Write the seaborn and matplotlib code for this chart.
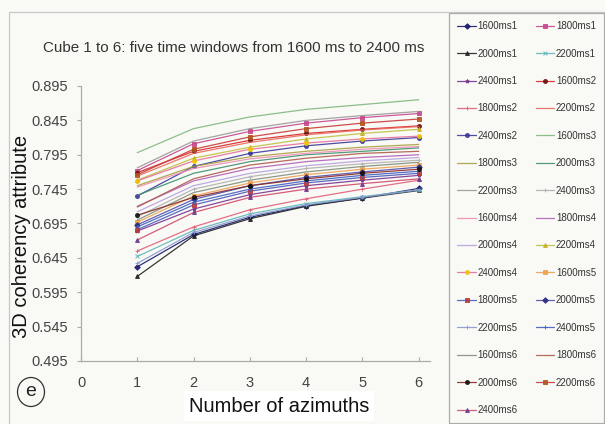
import numpy as np
import pandas as pd
import matplotlib
matplotlib.use("Agg")
import matplotlib.pyplot as plt
from matplotlib.patches import Rectangle, Ellipse
import seaborn as sns

# Number of azimuths used for each coherency cube
azimuths = [1, 2, 3, 4, 5, 6]

# Series names (time window + cube id), in legend order
series_names = [
    "1600ms1", "1800ms1", "2000ms1", "2200ms1", "2400ms1", "1600ms2",
    "1800ms2", "2200ms2", "2400ms2", "1600ms3", "1800ms3", "2000ms3",
    "2200ms3", "2400ms3", "1600ms4", "1800ms4", "2000ms4", "2200ms4",
    "2400ms4", "1600ms5", "1800ms5", "2000ms5", "2200ms5", "2400ms5",
    "1600ms6", "1800ms6", "2000ms6", "2200ms6", "2400ms6",
]

# Mean 3D coherency attribute for each series at 1..6 azimuths
v_1600ms1 = [0.632, 0.679, 0.704, 0.721, 0.732, 0.746]
v_1800ms1 = [0.772, 0.811, 0.829, 0.841, 0.849, 0.855]
v_2000ms1 = [0.618, 0.677, 0.702, 0.720, 0.732, 0.743]
v_2200ms1 = [0.647, 0.685, 0.709, 0.724, 0.734, 0.744]
v_2400ms1 = [0.684, 0.716, 0.737, 0.750, 0.758, 0.765]
v_1600ms2 = [0.769, 0.800, 0.816, 0.826, 0.832, 0.837]
v_1800ms2 = [0.655, 0.690, 0.715, 0.731, 0.745, 0.758]
v_2200ms2 = [0.764, 0.797, 0.813, 0.824, 0.831, 0.836]
v_2400ms2 = [0.735, 0.778, 0.797, 0.808, 0.815, 0.820]
v_1600ms3 = [0.798, 0.833, 0.850, 0.861, 0.868, 0.875]
v_1800ms3 = [0.750, 0.778, 0.792, 0.800, 0.806, 0.810]
v_2000ms3 = [0.736, 0.768, 0.785, 0.795, 0.800, 0.805]
v_2200ms3 = [0.776, 0.815, 0.833, 0.845, 0.852, 0.858]
v_2400ms3 = [0.705, 0.745, 0.763, 0.775, 0.782, 0.787]
v_1600ms4 = [0.748, 0.775, 0.789, 0.797, 0.803, 0.807]
v_1800ms4 = [0.720, 0.757, 0.775, 0.785, 0.791, 0.795]
v_2000ms4 = [0.712, 0.750, 0.768, 0.779, 0.786, 0.791]
v_2200ms4 = [0.758, 0.790, 0.806, 0.818, 0.826, 0.832]
v_2400ms4 = [0.757, 0.786, 0.803, 0.812, 0.818, 0.822]
v_1600ms5 = [0.697, 0.735, 0.754, 0.766, 0.774, 0.780]
v_1800ms5 = [0.686, 0.722, 0.742, 0.754, 0.762, 0.768]
v_2000ms5 = [0.693, 0.730, 0.750, 0.762, 0.770, 0.777]
v_2200ms5 = [0.637, 0.682, 0.706, 0.722, 0.733, 0.744]
v_2400ms5 = [0.690, 0.726, 0.745, 0.757, 0.765, 0.771]
v_1600ms6 = [0.700, 0.740, 0.758, 0.770, 0.778, 0.784]
v_1800ms6 = [0.719, 0.760, 0.780, 0.790, 0.797, 0.800]
v_2000ms6 = [0.707, 0.733, 0.750, 0.760, 0.768, 0.774]
v_2200ms6 = [0.766, 0.803, 0.821, 0.833, 0.841, 0.847]
v_2400ms6 = [0.671, 0.711, 0.733, 0.745, 0.753, 0.760]

values = {
    "1600ms1": v_1600ms1, "1800ms1": v_1800ms1, "2000ms1": v_2000ms1,
    "2200ms1": v_2200ms1, "2400ms1": v_2400ms1, "1600ms2": v_1600ms2,
    "1800ms2": v_1800ms2, "2200ms2": v_2200ms2, "2400ms2": v_2400ms2,
    "1600ms3": v_1600ms3, "1800ms3": v_1800ms3, "2000ms3": v_2000ms3,
    "2200ms3": v_2200ms3, "2400ms3": v_2400ms3, "1600ms4": v_1600ms4,
    "1800ms4": v_1800ms4, "2000ms4": v_2000ms4, "2200ms4": v_2200ms4,
    "2400ms4": v_2400ms4, "1600ms5": v_1600ms5, "1800ms5": v_1800ms5,
    "2000ms5": v_2000ms5, "2200ms5": v_2200ms5, "2400ms5": v_2400ms5,
    "1600ms6": v_1600ms6, "1800ms6": v_1800ms6, "2000ms6": v_2000ms6,
    "2200ms6": v_2200ms6, "2400ms6": v_2400ms6,
}

yticks = [0.495, 0.545, 0.595, 0.645, 0.695, 0.745, 0.795, 0.845, 0.895]
xticks = [0, 1, 2, 3, 4, 5, 6]

colors = {
    "1600ms1": "#1a1a6e", "1800ms1": "#c8478f", "2000ms1": "#222222",
    "2200ms1": "#5fb8b8", "2400ms1": "#7a3590", "1600ms2": "#d62828",
    "1800ms2": "#e0607a", "2200ms2": "#e86a5e", "2400ms2": "#3a3a9a",
    "1600ms3": "#7fb87f", "1800ms3": "#a8a040", "2000ms3": "#3f9070",
    "2200ms3": "#9a9a9a", "2400ms3": "#b0b0b0", "1600ms4": "#f08cb4",
    "1800ms4": "#b35fb8", "2000ms4": "#b8a0e0", "2200ms4": "#c0c040",
    "2400ms4": "#e8709a", "1600ms5": "#f0a050", "1800ms5": "#4a5ab8",
    "2000ms5": "#5050a8", "2200ms5": "#8a9ad0", "2400ms5": "#4060c0",
    "1600ms6": "#7f8f7a", "1800ms6": "#b05a4a", "2000ms6": "#8a2a2a",
    "2200ms6": "#c83a3a", "2400ms6": "#d04a6a",
}

markers = {
    "1600ms1": "D", "1800ms1": "s", "2000ms1": "^", "2200ms1": "x",
    "2400ms1": "*", "1600ms2": "o", "1800ms2": "+", "2200ms2": None,
    "2400ms2": "o", "1600ms3": None, "1800ms3": None, "2000ms3": None,
    "2200ms3": None, "2400ms3": "+", "1600ms4": None, "1800ms4": None,
    "2000ms4": None, "2200ms4": "^", "2400ms4": "o", "1600ms5": "s",
    "1800ms5": "s", "2000ms5": "D", "2200ms5": "+", "2400ms5": "+",
    "1600ms6": None, "1800ms6": None, "2000ms6": "o", "2200ms6": "s",
    "2400ms6": "^",
}

marker_faces = {
    "1800ms5": "#b83a3a", "2400ms4": "#f2c200", "2200ms4": "#c8b020",
    "1600ms2": "#6a1010", "2000ms6": "#111111", "2200ms6": "#b0561e",
    "2400ms6": "#6a3a8a", "2000ms5": "#2a2a80",
}

rows = []
for name in series_names:
    for x, y in zip(azimuths, values[name]):
        rows.append({"azimuths": x, "coherency": y, "series": name})
df = pd.DataFrame(rows)

bg = "#f9f9f6"
sns.set_theme(style="white")
plt.rcParams["font.family"] = ["Liberation Sans", "DejaVu Sans"]

fig = plt.figure(figsize=(6.05, 4.24), dpi=100, facecolor=bg)
ax = fig.add_axes([81 / 605, 1 - 361 / 424, (430 - 81) / 605, (361 - 86) / 424])
ax.set_facecolor(bg)

for name in series_names:
    sub = df[df["series"] == name]
    mk = markers[name]
    face = marker_faces.get(name, colors[name])
    kw = dict(marker=mk, markersize=2.8, markeredgewidth=0.7,
              markerfacecolor=face, markeredgecolor=face) if mk else {}
    sns.lineplot(data=sub, x="azimuths", y="coherency", color=colors[name],
                 linewidth=0.9, alpha=0.9, label=name, ax=ax, **kw)

handles, labels = ax.get_legend_handles_labels()
ax.get_legend().remove()

# the legend is read across rows: put even entries in the first column
order = list(range(0, len(labels), 2)) + list(range(1, len(labels), 2))
handles = [handles[i] for i in order]
labels = [labels[i] for i in order]

ax.set_xlim(0, 6.2)
ax.set_ylim(0.495, 0.895)
ax.set_xticks(xticks)
ax.set_yticks(yticks)
ax.set_yticklabels([f"{t:.3f}" for t in yticks])
ax.tick_params(axis="y", direction="out", length=3, width=0.8, color="#aaaaaa",
               labelsize=10.5, labelcolor="#444444", pad=6, left=True)
ax.tick_params(axis="x", direction="in", length=3, width=0.8, color="#aaaaaa",
               labelsize=10.5, labelcolor="#444444", pad=11, bottom=True)
for side in ["top", "right"]:
    ax.spines[side].set_visible(False)
for side in ["left", "bottom"]:
    ax.spines[side].set_color("#aaaaaa")
    ax.spines[side].set_linewidth(0.9)
ax.set_xlabel("")
ax.set_ylabel("")

fig.text(22 / 605, 1 - 236 / 424, "3D coherency attribute", rotation=90,
         ha="center", va="center", fontsize=14.5, color="#111111")
fig.text(279 / 605, 1 - 406 / 424, "Number of azimuths", ha="center",
         va="center", fontsize=14.5, color="#111111",
         bbox=dict(boxstyle="square,pad=0.25", facecolor="white", edgecolor="none"))
fig.text(234 / 605, 1 - 48 / 424,
         "Cube 1 to 6: five time windows from 1600 ms to 2400 ms",
         ha="center", va="center", fontsize=10.9, color="#333333")

# panel tag
fig.patches.append(Ellipse((31 / 605, 1 - 392 / 424), 27 / 605, 29 / 424,
                           transform=fig.transFigure, facecolor="none",
                           edgecolor="#333333", linewidth=0.9))
fig.text(31 / 605, 1 - 392 / 424, "e", ha="center", va="center",
         fontsize=14, color="#222222")

# chart border
fig.patches.append(Rectangle((9 / 605, -0.01), 0.99, 1 - 12 / 424 + 0.01,
                             transform=fig.transFigure, facecolor="none",
                             edgecolor="#c8c8c8", linewidth=0.9))

leg = fig.legend(
    handles, labels, loc="upper left", ncol=2,
    bbox_to_anchor=(449 / 605, 1 - 13 / 424),
    fontsize=7, frameon=True, fancybox=False, borderaxespad=0,
    handlelength=1.9, handletextpad=0.15, columnspacing=1.9,
    labelspacing=1.79, borderpad=0.85, markerscale=1.0,
)
leg.get_frame().set_edgecolor("#999999")
leg.get_frame().set_linewidth(0.9)
leg.get_frame().set_facecolor(bg)
for t in leg.get_texts():
    t.set_color("#333333")

fig.savefig("out.png", dpi=100, facecolor=bg)
